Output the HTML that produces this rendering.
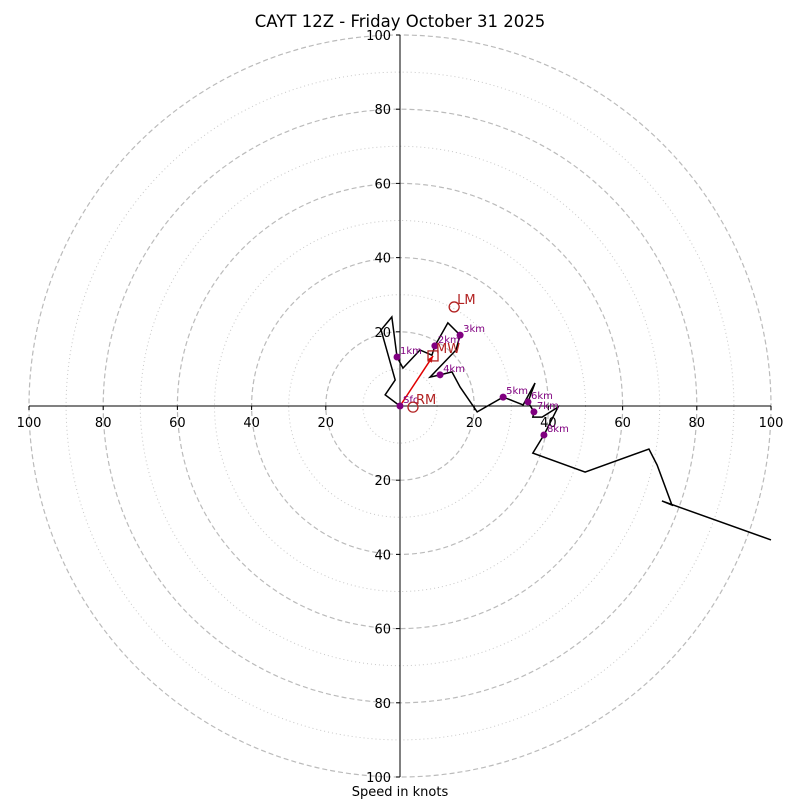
<!DOCTYPE html>
<html><head><meta charset="utf-8"><style>
html,body{margin:0;padding:0;background:#fff}
svg{font-family:"DejaVu Sans","Liberation Sans",sans-serif}
</style></head><body>
<svg id="chart" width="800" height="800" viewBox="0 0 800 800" xmlns="http://www.w3.org/2000/svg">
<rect width="800" height="800" fill="#fff"/>
<text x="400" y="27" text-anchor="middle" font-size="16.5">CAYT 12Z - Friday October 31 2025</text>
<text x="400" y="796" text-anchor="middle" font-size="13">Speed in knots</text>
<g id="rings"></g><g id="axes"></g><g id="trace"></g><g id="marks"></g>
</svg>
<script>
const ringMajor=[20,40,60,80,100];
const ringMinor=[10,30,50,70,90];
const tickLabels=["20","40","60","80","100"];
const windU=[0,-4.0,-1.3,-5.1,-2.2,-0.8,0.8,5.4,8.6,9.4,12.9,16.2,15.1,8.1,10.8,14.0,16.2,20.8,27.8,33.2,36.4,34.5,36.1,35.8,38.3,42.6,38.8,35.8,49.9,67.1,69.3,73.3,70.6,100];
const windV=[0,3.0,7.0,20.5,24.0,13.2,10.2,15.1,13.7,16.2,22.4,19.1,15.1,7.8,8.4,9.2,5.1,-1.6,2.4,0.3,6.2,1.1,-1.6,-3.0,-3.0,-0.3,-7.8,-12.7,-17.8,-11.6,-15.9,-26.7,-25.6,-36.1];
const levelNames=["Sfc","1km","2km","3km","4km","5km","6km","7km","8km"];
const levelU=[0,-0.8,9.4,16.2,10.8,27.8,34.5,36.1,38.8];
const levelV=[0,13.2,16.2,19.1,8.4,2.4,1.1,-1.6,-7.8];
const motionNames=["LM","RM","MW"];
const motionU=[14.6,3.5,8.9];
const motionV=[26.7,-0.3,13.5];

const NS="http://www.w3.org/2000/svg";
const cx=400,cy=406,R=371,maxK=100;
const sx=u=>cx+u/maxK*R, sy=v=>cy-v/maxK*R, sr=k=>k/maxK*R;
function mk(tag,attrs,parent,txt){const e=document.createElementNS(NS,tag);for(const k in attrs)e.setAttribute(k,attrs[k]);if(txt!==undefined)e.textContent=txt;parent.appendChild(e);return e;}
const rings=document.getElementById('rings');
ringMinor.forEach(k=>{const c=mk('circle',{cx,cy,r:sr(k),fill:'none',stroke:'#c8c8c8','stroke-width':1,'stroke-dasharray':'1,3'},rings);

});
ringMajor.forEach(k=>{const c=mk('circle',{cx,cy,r:sr(k),fill:'none',stroke:'#bbbbbb','stroke-width':1.2,'stroke-dasharray':'5,3'},rings);

});
const axes=document.getElementById('axes');
let l=mk('line',{x1:sx(-maxK),y1:cy,x2:sx(maxK),y2:cy,stroke:'#000','stroke-width':1},axes);


l=mk('line',{x1:cx,y1:sy(maxK),x2:cx,y2:sy(-maxK),stroke:'#000','stroke-width':1},axes);


ringMajor.forEach((k,i)=>{
 [1,-1].forEach(s=>{
  mk('line',{x1:sx(s*k),y1:cy,x2:sx(s*k),y2:cy+4,stroke:'#000'},axes);
  let t=mk('text',{x:sx(s*k),y:cy+21,'text-anchor':'middle','font-size':13},axes,tickLabels[i]);
  
  
  mk('line',{x1:cx-4,y1:sy(s*k),x2:cx,y2:sy(s*k),stroke:'#000'},axes);
  t=mk('text',{x:cx-9,y:sy(s*k)+5,'text-anchor':'end','font-size':13},axes,tickLabels[i]);
  
  
 });
});
const trace=document.getElementById('trace');
const pts=windU.map((u,i)=>sx(u)+','+sy(windV[i])).join(' ');
const pl=mk('polyline',{points:pts,fill:'none',stroke:'#000','stroke-width':1.5,'stroke-linejoin':'miter'},trace);


const marks=document.getElementById('marks');
const ar=mk('line',{x1:sx(0),y1:sy(0),x2:sx(motionU[2]),y2:sy(motionV[2]),stroke:'#e00000','stroke-width':1.5},marks);


(function(){const x2=sx(motionU[2]),y2=sy(motionV[2]),x1=sx(0),y1=sy(0);const a=Math.atan2(y2-y1,x2-x1),h=7;
const p=[[x2,y2],[x2-h*Math.cos(a-0.4),y2-h*Math.sin(a-0.4)],[x2-h*Math.cos(a+0.4),y2-h*Math.sin(a+0.4)]].map(q=>q.join(',')).join(' ');
const hd=mk('polygon',{points:p,fill:'#e00000'},marks);

})();
levelNames.forEach((n,i)=>{
 const c=mk('circle',{cx:sx(levelU[i]),cy:sy(levelV[i]),r:3.5,fill:'#800080'},marks);
 
 
 const t=mk('text',{x:sx(levelU[i])+3,y:sy(levelV[i])-3,'font-size':10,fill:'#800080'},marks,n);
 
 
});
motionNames.forEach((n,i)=>{
 const x=sx(motionU[i]),y=sy(motionV[i]);
 let s;
 if(n==='MW'){s=mk('rect',{x:x-5,y:y-5,width:10,height:10,fill:'none',stroke:'#b22222','stroke-width':1.3},marks);}
 else{s=mk('circle',{cx:x,cy:y,r:5,fill:'none',stroke:'#b22222','stroke-width':1.3},marks);}
 
 
 const t=mk('text',{x:x+3,y:y-3,'font-size':13,fill:'#b22222'},marks,n);
 
 
});
</script>
</body></html>
